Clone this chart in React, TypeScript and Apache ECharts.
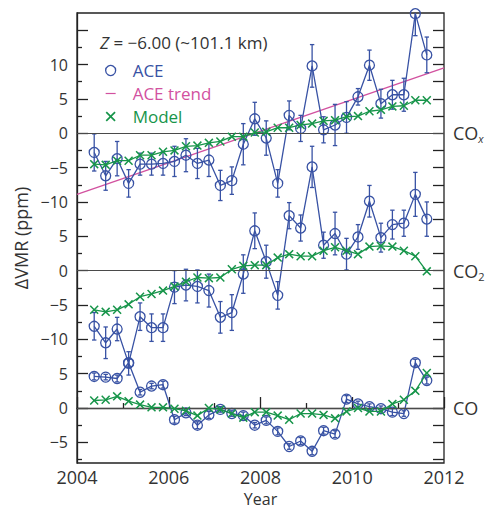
import React, { useEffect, useRef } from 'react';
import * as echarts from 'echarts';

// Measurement times (decimal year, quarterly means)
const years = [
  2004.375, 2004.625, 2004.875, 2005.125, 2005.375, 2005.625, 2005.875, 2006.125,
  2006.375, 2006.625, 2006.875, 2007.125, 2007.375, 2007.625, 2007.875, 2008.125,
  2008.375, 2008.625, 2008.875, 2009.125, 2009.375, 2009.625, 2009.875, 2010.125,
  2010.375, 2010.625, 2010.875, 2011.125, 2011.375, 2011.625,
];

// COx panel (ppm)
const coxAce = [-2.8, -6.2, -3.7, -7.3, -4.5, -4.5, -4.4, -4.1, -3.2, -4.4, -3.9, -7.6, -6.9, -1.6, 2.1, -0.7, -7.3, 2.6, 0.7, 9.8, 0.5, 1.2, 2.3, 5.3, 9.9, 4.3, 5.6, 5.6, 17.4, 11.4];
const coxErr = [2.7, 2.1, 2.5, 2.0, 1.6, 1.6, 1.7, 2.2, 2.4, 2.2, 2.4, 2.2, 2.0, 3.0, 2.4, 2.5, 2.0, 2.1, 1.9, 3.1, 1.9, 3.0, 2.3, 1.2, 2.2, 2.1, 2.1, 2.4, 3.2, 2.6];
const coxModel = [-4.5, -4.6, -4.0, -4.0, -3.2, -3.2, -2.7, -2.5, -1.9, -1.8, -1.4, -1.2, -0.5, -0.5, 0.1, 0.2, 0.8, 0.8, 1.2, 1.4, 1.8, 1.9, 2.4, 2.5, 3.2, 3.4, 3.9, 4.0, 4.8, 4.8];
const coxTrendYears = [2004, 2012];
const coxTrend = [-8.9, 9.5];

// CO2 panel (ppm)
const co2Ace = [-8.1, -10.5, -8.5, -13.5, -6.7, -8.3, -8.3, -2.4, -2.1, -2.3, -2.9, -6.8, -6.1, -0.5, 5.8, 1.3, -3.6, 8.0, 6.2, 15.1, 3.7, 5.4, 2.4, 4.9, 10.1, 4.8, 6.7, 6.9, 11.1, 7.5];
const co2Err = [2.0, 2.3, 1.7, 1.7, 2.0, 2.0, 2.0, 2.4, 2.3, 2.4, 2.4, 2.3, 2.6, 2.8, 2.6, 2.4, 2.0, 1.9, 1.9, 3.0, 1.9, 3.1, 2.3, 1.8, 2.3, 2.1, 2.1, 1.9, 3.2, 2.5];
const co2Model = [-5.7, -6.0, -5.7, -4.9, -3.8, -3.4, -2.9, -2.3, -1.6, -1.0, -1.1, -1.0, 0.2, 0.7, 0.8, 0.8, 1.9, 2.4, 2.1, 2.1, 2.9, 3.4, 2.9, 2.4, 3.5, 3.6, 3.5, 2.9, 2.1, -0.1];

// CO panel (ppm)
const coAce = [4.6, 4.5, 4.3, 6.6, 2.3, 3.2, 3.4, -1.7, -0.7, -2.5, -1.0, -0.2, -0.8, -1.1, -2.5, -1.8, -3.4, -5.6, -4.8, -6.3, -3.3, -3.8, 1.3, 0.6, 0.2, -0.1, -0.6, -0.8, 6.6, 4.0];
const coErr = [0.5, 0.4, 0.5, 0.5, 0.4, 0.4, 0.5, 0.5, 0.4, 0.5, 0.5, 0.4, 0.4, 0.5, 0.4, 0.5, 0.5, 0.4, 0.5, 0.5, 0.5, 0.5, 0.5, 0.4, 0.4, 0.4, 0.5, 0.4, 0.5, 0.5];
const coModel = [1.1, 1.2, 1.7, 1.0, 0.5, 0.1, 0.1, -0.1, -0.4, -1.1, 0.0, -0.2, -0.8, -1.4, -0.6, -0.6, -1.1, -1.7, -0.8, -0.8, -1.0, -1.5, -0.5, 0.0, -0.5, -0.5, 0.6, 1.2, 2.5, 5.1];

// Vertical stacking offsets of the three panels on the shared axis
const panelOffsets = [40, 20, 0];
const panelNames = ['COx', 'CO2', 'CO'];

// Tick positions on the shared axis
const majorTicks = [-5, 0, 5, 10, 15, 20, 25, 30, 35, 40, 45, 50, 55];
const minorTicks = [-7.5, -2.5, 2.5, 7.5, 12.5, 17.5, 22.5, 27.5, 32.5, 37.5, 42.5, 47.5, 52.5];
const labelTicks = [-5, 0, 5, 10, 15, 20, 25, 30, 35, 40, 45, 50];
const allTicks = [...minorTicks, ...majorTicks].sort((a, b) => a - b);

const BLUE = '#3852a4';
const GREEN = '#17954a';
const MAGENTA = '#d2519f';
const INK = '#333333';
const FRAME = '#222222';
const FONT = 'Open Sans';
const XICON = 'path://M0,1.2L1.2,0L5,3.8L8.8,0L10,1.2L6.2,5L10,8.8L8.8,10L5,6.2L1.2,10L0,8.8L3.8,5Z';
const DASHICON = 'path://M0,0M0,4.4L10,4.4L10,5.6L0,5.6ZM10,10';

const fmtMinus = (v: number) => (v < 0 ? '\u2212' + Math.abs(v) : String(v));

export default function App() {
  const ref = useRef<HTMLDivElement>(null);

  useEffect(() => {
    if (!ref.current) return;
    const chart = echarts.init(ref.current, undefined, { renderer: 'svg' });

    const aceSets = [coxAce, co2Ace, coAce];
    const errSets = [coxErr, co2Err, coErr];
    const modelSets = [coxModel, co2Model, coModel];

    const errData: number[][] = [];
    aceSets.forEach((vals, p) => {
      vals.forEach((v, i) => {
        const off = panelOffsets[p];
        errData.push([years[i], v - errSets[p][i] + off, v + errSets[p][i] + off]);
      });
    });

    const series: any[] = [];
    series.push({
      name: 'ACE trend',
      type: 'line',
      data: coxTrendYears.map((y, i) => [y, coxTrend[i] + panelOffsets[0]]),
      symbol: 'none',
      lineStyle: { color: MAGENTA, width: 1.3 },
      itemStyle: { color: MAGENTA },
      z: 2,
      silent: true,
      markLine: {
        silent: true,
        symbol: 'none',
        label: { show: false },
        lineStyle: { color: '#4a4a4a', width: 1.2, type: 'solid' },
        data: panelOffsets.map((o) => ({ yAxis: o })),
      },
    });
    series.push({
      name: 'errors',
      type: 'custom',
      data: errData,
      encode: { x: 0, y: [1, 2] },
      clip: true,
      silent: true,
      z: 3,
      renderItem: (params: any, api: any) => {
        const x = api.value(0);
        const p1 = api.coord([x, api.value(1)]);
        const p2 = api.coord([x, api.value(2)]);
        const cw = 2.2;
        const st = { stroke: BLUE, lineWidth: 1.3 };
        return {
          type: 'group',
          children: [
            { type: 'line', shape: { x1: p1[0], y1: p1[1], x2: p2[0], y2: p2[1] }, style: st },
            { type: 'line', shape: { x1: p1[0] - cw, y1: p1[1], x2: p1[0] + cw, y2: p1[1] }, style: st },
            { type: 'line', shape: { x1: p2[0] - cw, y1: p2[1], x2: p2[0] + cw, y2: p2[1] }, style: st },
          ],
        };
      },
    });
    aceSets.forEach((vals, p) => {
      series.push({
        name: 'ACE',
        id: 'ace-' + panelNames[p],
        type: 'line',
        data: vals.map((v, i) => [years[i], v + panelOffsets[p]]),
        symbol: 'circle',
        symbolSize: 10,
        showAllSymbol: true,
        itemStyle: { color: 'transparent', borderColor: BLUE, borderWidth: 1.3 },
        lineStyle: { color: BLUE, width: 1.3 },
        z: 4,
        silent: true,
      });
    });
    modelSets.forEach((vals, p) => {
      series.push({
        name: 'Model',
        id: 'model-' + panelNames[p],
        type: 'line',
        data: vals.map((v, i) => [years[i], v + panelOffsets[p]]),
        symbol: XICON,
        symbolSize: 9,
        showAllSymbol: true,
        itemStyle: { color: GREEN },
        lineStyle: { color: GREEN, width: 1.3 },
        z: 5,
        silent: true,
      });
    });

    const tickLine = { color: FRAME, width: 1.3 };
    const leftLabel = (v: number) => {
      const local = v >= 27.5 ? v - 40 : v >= 7.5 ? v - 20 : v;
      return fmtMinus(local);
    };
    const rightLabel = (v: number) => {
      if (v === 40) return '{m|CO}{x|x}';
      if (v === 20) return '{m|CO}{s|2}';
      return '{m|CO}';
    };

    const option: any = {
      animation: false,
      textStyle: { fontFamily: FONT },
      title: {
        text: '{i|Z} = \u22126.00 (~101.1 km)',
        left: 100,
        top: 34,
        padding: 0,
        textStyle: {
          fontFamily: FONT,
          fontSize: 17,
          fontWeight: 'normal',
          color: INK,
          rich: { i: { fontFamily: FONT, fontSize: 17, fontStyle: 'italic', color: INK } },
        },
      },
      legend: {
        orient: 'vertical',
        left: 105,
        top: 62,
        padding: 0,
        itemGap: 6,
        itemWidth: 34,
        itemHeight: 10,
        selectedMode: false,
        symbolKeepAspect: true,
        textStyle: { fontFamily: FONT, fontSize: 17 },
        data: [
          {
            name: 'ACE',
            icon: 'circle',
            itemStyle: { color: 'transparent', borderColor: BLUE, borderWidth: 1.3 },
            textStyle: { color: BLUE },
          },
          {
            name: 'ACE trend',
            icon: DASHICON,
            itemStyle: { color: MAGENTA, borderWidth: 0 },
            textStyle: { color: MAGENTA },
          },
          {
            name: 'Model',
            icon: XICON,
            itemStyle: { color: GREEN, borderWidth: 0 },
            textStyle: { color: GREEN },
          },
        ],
      },
      grid: {
        left: 77,
        right: 41,
        top: 13,
        bottom: 48,
        outerBoundsMode: 'none',
        containLabel: false,
        show: true,
        borderColor: FRAME,
        borderWidth: 1.3,
        backgroundColor: 'transparent',
      },
      xAxis: {
        type: 'value',
        min: 2004,
        max: 2012,
        interval: 2,
        name: 'Year',
        nameLocation: 'middle',
        nameGap: 27,
        nameTextStyle: { fontFamily: FONT, fontSize: 16, color: INK },
        axisLine: { show: true, lineStyle: tickLine },
        axisTick: { show: true, inside: true, length: 11, lineStyle: tickLine },
        minorTick: { show: true, splitNumber: 2, length: 5, lineStyle: tickLine },
        axisLabel: { fontFamily: FONT, fontSize: 18, color: INK, margin: 5, formatter: (v: number) => String(v) },
        splitLine: { show: false },
        minorSplitLine: { show: false },
      },
      yAxis: [
        {
          type: 'value',
          min: -8,
          max: 57.5,
          position: 'left',
          name: '\u0394VMR (ppm)',
          nameLocation: 'middle',
          nameGap: 47,
          nameTextStyle: { fontFamily: FONT, fontSize: 18, color: INK },
          axisLine: { show: true, lineStyle: tickLine },
          axisTick: { show: true, inside: true, length: 11, lineStyle: tickLine, customValues: majorTicks },
          axisLabel: {
            fontFamily: FONT,
            fontSize: 16,
            color: INK,
            margin: 9,
            customValues: labelTicks,
            formatter: leftLabel,
          },
          splitLine: { show: false },
        },
        {
          type: 'value',
          min: -8,
          max: 57.5,
          position: 'left',
          offset: 0,
          axisLine: { show: false },
          axisTick: { show: true, inside: true, length: 5, lineStyle: tickLine, customValues: minorTicks },
          axisLabel: { show: false },
          splitLine: { show: false },
        },
        {
          type: 'value',
          min: -8,
          max: 57.5,
          position: 'right',
          offset: 0,
          axisLine: { show: false },
          axisTick: { show: true, inside: true, length: 11, lineStyle: tickLine, customValues: allTicks },
          axisLabel: {
            margin: 9,
            customValues: panelOffsets,
            formatter: rightLabel,
            rich: {
              m: { fontFamily: FONT, fontSize: 18, color: INK, lineHeight: 22, verticalAlign: 'middle' },
              x: { fontFamily: FONT, fontSize: 11, fontStyle: 'italic', color: INK, lineHeight: 11, verticalAlign: 'bottom' },
              s: { fontFamily: FONT, fontSize: 11, color: INK, lineHeight: 11, verticalAlign: 'bottom' },
            },
          },
          splitLine: { show: false },
        },
      ],
      series,
    };

    chart.setOption(option);
    return () => chart.dispose();
  }, []);

  return (
    <div
      ref={ref}
      style={{ position: 'absolute', left: 0, top: 0, width: 485, height: 511, background: '#fff' }}
    />
  );
}
